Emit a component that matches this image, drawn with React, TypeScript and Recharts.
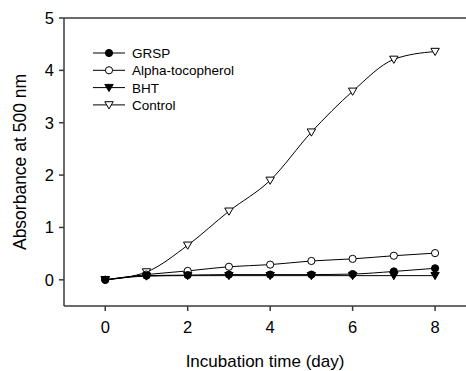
import { Line, LineChart, ReferenceLine, XAxis, YAxis } from 'recharts';

const days = [0, 1, 2, 3, 4, 5, 6, 7, 8];
const grsp = [0, 0.08, 0.09, 0.1, 0.1, 0.1, 0.11, 0.16, 0.22];
const alphaTocopherol = [0, 0.1, 0.17, 0.25, 0.29, 0.36, 0.4, 0.46, 0.51];
const bht = [0, 0.07, 0.08, 0.08, 0.08, 0.08, 0.08, 0.08, 0.08];
const control = [0, 0.15, 0.66, 1.31, 1.9, 2.82, 3.6, 4.21, 4.36];

const xTicks = [0, 2, 4, 6, 8];
const yTicks = [0, 1, 2, 3, 4, 5];

const data = days.map((d, i) => ({
  day: d,
  grsp: grsp[i],
  alpha: alphaTocopherol[i],
  bht: bht[i],
  control: control[i],
}));

const FONT = '"Liberation Sans", Arial, sans-serif';
const AXIS = '#3a3a3a';

type Marker = 'circle' | 'triangle';

function drawMarker(kind: Marker, filled: boolean, cx: number, cy: number, key?: string) {
  const fill = filled ? '#000' : '#fff';
  if (kind === 'circle') {
    return <circle key={key} cx={cx} cy={cy} r={3.6} fill={fill} stroke="#000" strokeWidth={1} />;
  }
  return (
    <path
      key={key}
      d={`M${cx - 4.2},${cy - 3.2} L${cx + 4.2},${cy - 3.2} L${cx},${cy + 4} Z`}
      fill={fill}
      stroke="#000"
      strokeWidth={1}
    />
  );
}

function dotFor(kind: Marker, filled: boolean) {
  return (props: any) => {
    const { cx, cy, index, dataKey } = props;
    if (cx == null || cy == null) return <g key={`${dataKey}-${index}`} />;
    return drawMarker(kind, filled, cx, cy, `${dataKey}-${index}`);
  };
}

const legendItems: { name: string; kind: Marker; filled: boolean }[] = [
  { name: 'GRSP', kind: 'circle', filled: true },
  { name: 'Alpha-tocopherol', kind: 'circle', filled: false },
  { name: 'BHT', kind: 'triangle', filled: true },
  { name: 'Control', kind: 'triangle', filled: false },
];

function LegendBox() {
  return (
    <svg width={170} height={70} style={{ display: 'block' }}>
      {legendItems.map((item, i) => {
        const y = 8 + i * 17.3;
        return (
          <g key={item.name}>
            <line x1={3} x2={35} y1={y} y2={y} stroke="#000" strokeWidth={1} />
            {drawMarker(item.kind, item.filled, 19, y)}
            <text x={42} y={y + 5} fontSize={13.5} fontFamily={FONT} fill="#000">
              {item.name}
            </text>
          </g>
        );
      })}
    </svg>
  );
}

export default function App() {
  return (
    <div style={{ position: 'relative', width: 466, height: 371, background: '#fff' }}>
      <style>{'body{margin:0}'}</style>
      <LineChart
        width={466}
        height={371}
        data={data}
        margin={{ top: 18, right: 0, bottom: 0, left: 0 }}
      >
        <XAxis
          dataKey="day"
          type="number"
          domain={[-1, 8.75]}
          ticks={xTicks}
          allowDataOverflow
          height={65}
          stroke={AXIS}
          strokeWidth={1.5}
          tickSize={5}
          tick={{ fill: '#000', fontSize: 16.5, fontFamily: FONT, dy: 8 }}
          label={{
            value: 'Incubation time (day)',
            position: 'insideBottom',
            offset: 4,
            style: { fill: '#000', fontSize: 17, fontFamily: FONT },
          }}
        />
        <YAxis
          type="number"
          domain={[-0.5, 5]}
          ticks={yTicks}
          allowDataOverflow
          width={64}
          stroke={AXIS}
          strokeWidth={1.5}
          tickSize={5}
          tick={{ fill: '#000', fontSize: 16.5, fontFamily: FONT, dx: -3 }}
          label={{
            value: 'Absorbance at 500 nm',
            angle: -90,
            position: 'insideLeft',
            offset: 20,
            style: { fill: '#000', fontSize: 17.5, fontFamily: FONT, textAnchor: 'middle' },
          }}
        />
        <ReferenceLine y={5} stroke={AXIS} strokeWidth={1.5} />
        <Line
          type="monotone"
          dataKey="control"
          name="Control"
          stroke="#000"
          strokeWidth={1}
          dot={dotFor('triangle', false)}
          isAnimationActive={false}
        />
        <Line
          type="monotone"
          dataKey="alpha"
          name="Alpha-tocopherol"
          stroke="#000"
          strokeWidth={1}
          dot={dotFor('circle', false)}
          isAnimationActive={false}
        />
        <Line
          type="monotone"
          dataKey="bht"
          name="BHT"
          stroke="#000"
          strokeWidth={1}
          dot={dotFor('triangle', true)}
          isAnimationActive={false}
        />
        <Line
          type="monotone"
          dataKey="grsp"
          name="GRSP"
          stroke="#000"
          strokeWidth={1}
          dot={dotFor('circle', true)}
          isAnimationActive={false}
        />
      </LineChart>
      <div style={{ position: 'absolute', left: 90, top: 45 }}>
        <LegendBox />
      </div>
    </div>
  );
}
